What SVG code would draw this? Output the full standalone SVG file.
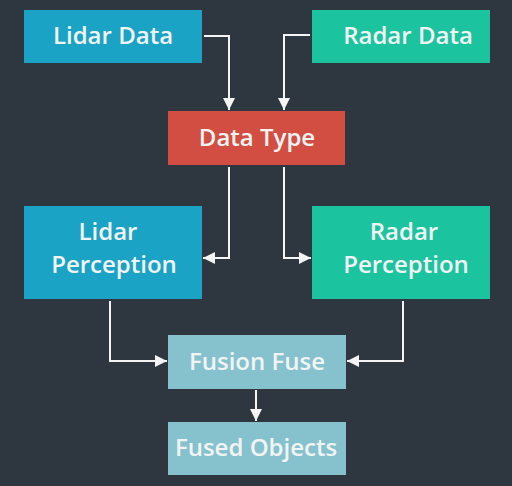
<svg xmlns="http://www.w3.org/2000/svg" width="512" height="486" viewBox="0 0 512 486">
<defs>
<style>
.t{font-family:"Open Sans","Noto Sans","Liberation Sans",sans-serif;font-weight:600;font-size:24px;fill:#f2f4f4;text-anchor:middle}
.c{fill:none;stroke:#f4f4f4;stroke-width:2}
.lidar{fill:#1aa3c5}
.radar{fill:#1cc39f}
.dtype{fill:#d24e43}
.fuse{fill:#86c2ce}
</style>
<marker id="ah" viewBox="0 0 12 12" refX="12" refY="6" markerWidth="12" markerHeight="12" markerUnits="userSpaceOnUse" orient="auto">
<path d="M0,0 L12,6 L0,12 Z" fill="#f4f4f4"/>
</marker>
</defs>
<rect width="512" height="486" fill="#2e3640"/>
<g id="connectors">
<path class="c" d="M204,36 H229 V110" marker-end="url(#ah)"/>
<path class="c" d="M310,35 H284 V110" marker-end="url(#ah)"/>
<path class="c" d="M229,167 V258 H203" marker-end="url(#ah)"/>
<path class="c" d="M284,167 V258 H311" marker-end="url(#ah)"/>
<path class="c" d="M110,301 V361 H167" marker-end="url(#ah)"/>
<path class="c" d="M403,301 V361 H347" marker-end="url(#ah)"/>
<path class="c" d="M256,390 V421" marker-end="url(#ah)"/>
</g>
<g id="lidar-data">
<rect class="lidar" x="24" y="10" width="178" height="53"/>
<text class="t" x="113" y="44">Lidar Data</text>
</g>
<g id="radar-data">
<rect class="radar" x="312" y="10" width="178" height="53"/>
<text class="t" x="408" y="44">Radar Data</text>
</g>
<g id="data-type">
<rect class="dtype" x="168" y="111" width="177" height="54"/>
<text class="t" x="257" y="146">Data Type</text>
</g>
<g id="lidar-perception">
<rect class="lidar" x="24" y="206" width="178" height="93"/>
<text class="t" x="108" y="240">Lidar</text>
<text class="t" x="114" y="273">Perception</text>
</g>
<g id="radar-perception">
<rect class="radar" x="312" y="206" width="178" height="93"/>
<text class="t" x="404" y="240">Radar</text>
<text class="t" x="406" y="273">Perception</text>
</g>
<g id="fusion-fuse">
<rect class="fuse" x="168" y="335" width="178" height="54"/>
<text class="t" x="257" y="370">Fusion Fuse</text>
</g>
<g id="fused-objects">
<rect class="fuse" x="168" y="422" width="178" height="53"/>
<text class="t" x="256" y="456">Fused Objects</text>
</g>
</svg>
